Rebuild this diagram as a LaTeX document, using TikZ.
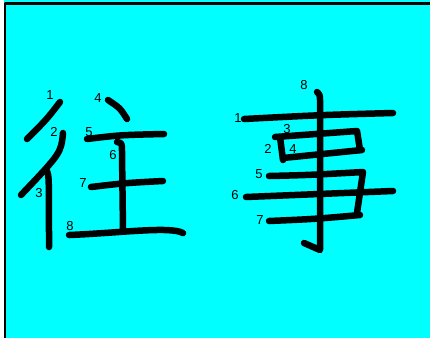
\documentclass[tikz,border=0pt]{standalone}
\usepackage{fontspec}
\setmainfont{Liberation Sans}
\definecolor{bgcyan}{RGB}{0,255,255}
\begin{document}
\begin{tikzpicture}[x=1pt,y=-1pt,line cap=round,line join=round,
  pen/.style={line width=6.5pt},
  num/.style={inner sep=0pt,font=\fontsize{13}{13}\selectfont}]
  \useasboundingbox (0,0) rectangle (430,338);
  \fill[white] (0,0) rectangle (430,338);
  \fill[bgcyan] (4,0) rectangle (430,338);
  \draw[line width=2.2pt,line cap=butt] (5,338) -- (5,3.5) -- (430,3.5);
  % left character
  \draw[pen] (60,102) .. controls (47,119) .. (27,139);
  \draw[pen] (63,133) .. controls (61,153) .. (21,195);
  \draw[pen] (47,171) .. controls (49,176) .. (49,247);
  \draw[pen] (108,100) .. controls (120,108) .. (127,119);
  \draw[pen] (87,139) .. controls (120,135) .. (164,134);
  \draw[pen] (117,142) .. controls (122,143) .. (122,152) -- (123,230);
  \draw[pen] (91,187) .. controls (125,183) .. (163,181);
  \draw[pen] (69,235) .. controls (120,233) and (170,226) .. (183,233);
  \node[num] (w1) at (50,95) {1};
  \node[num] (w2) at (54,132) {2};
  \node[num] (w3) at (39,193) {3};
  \node[num] (w4) at (98,98) {4};
  \node[num] (w5) at (89,132) {5};
  \node[num] (w6) at (113,155) {6};
  \node[num] (w7) at (83,183) {7};
  \node[num] (w8) at (70,226) {8};
  % right character
  \draw[pen] (244,119) .. controls (320,115) .. (393,113);
  \draw[pen] (280,137) -- (283,160);
  \draw[pen] (275,137) -- (357,131) -- (360,150);
  \draw[pen] (283,158) -- (362,150);
  \draw[pen] (269,176) .. controls (310,175) .. (363,172) -- (357,213);
  \draw[pen] (246,197) .. controls (320,194) .. (393,191);
  \draw[pen] (269,221) .. controls (315,219) .. (360,215);
  \draw[pen] (317,92) .. controls (320,95) .. (320,102) -- (320,250) -- (304,243);
  \node[num] (s1) at (238,118) {1};
  \node[num] (s2) at (268,149) {2};
  \node[num] (s3) at (287,129) {3};
  \node[num] (s4) at (293,149) {4};
  \node[num] (s5) at (259,174) {5};
  \node[num] (s6) at (235,195) {6};
  \node[num] (s7) at (260,220) {7};
  \node[num] (s8) at (304,85) {8};
\end{tikzpicture}
\end{document}
